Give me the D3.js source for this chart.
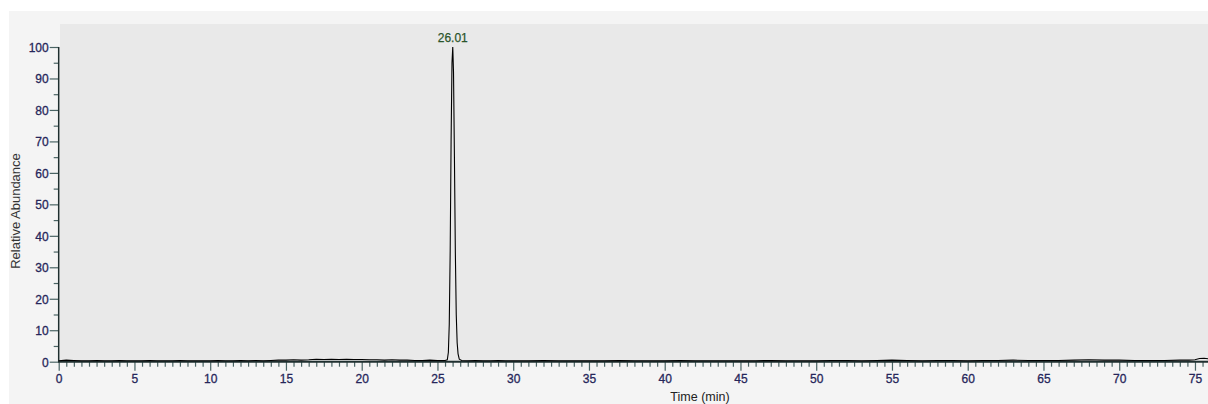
<!DOCTYPE html>
<html>
<head>
<meta charset="utf-8">
<script src="https://cdn.jsdelivr.net/npm/d3@7"></script>
<style>
  body { margin: 0; background: #fff; }
  svg { display: block; font-family: "Liberation Sans", Arial, sans-serif; }
</style>
</head>
<body>
<svg id="chart" width="1208" height="404"></svg>
<script>
// chromatogram trace (time in min, relative abundance in %)
var times = [
  0, 0.5, 1, 1.5, 2, 2.5, 3, 3.5, 4, 4.5, 5, 5.5, 6, 6.5, 7, 7.5, 8, 8.5, 9, 9.5,
  10, 10.5, 11, 11.5, 12, 12.5, 13, 13.5, 14, 14.5, 15, 15.5, 16, 16.5, 17, 17.5,
  18, 18.5, 19, 19.5, 20, 20.5, 21, 21.5, 22, 22.5, 23, 23.5, 24, 24.5, 25, 25.5,
  25.65, 25.72, 25.78, 25.84, 25.9, 25.96, 26.01, 26.06, 26.12, 26.18, 26.24, 26.3,
  26.36, 26.44, 26.6, 27, 27.5, 28, 28.5, 29, 29.5, 30, 31, 32, 33, 34, 35, 36, 37,
  38, 39, 40, 41, 42, 43, 44, 45, 46, 47, 48, 49, 50, 51, 52, 53, 54, 55, 56, 57,
  58, 59, 60, 61, 62, 63, 64, 65, 66, 67, 68, 69, 70, 71, 72, 73, 74, 74.6, 75,
  75.3, 75.6, 75.9
];
var abundance = [
  0.3, 0.5, 0.4, 0.3, 0.3, 0.4, 0.3, 0.3, 0.4, 0.3, 0.3, 0.3, 0.4, 0.3, 0.3, 0.3, 0.4, 0.3, 0.3, 0.3,
  0.3, 0.4, 0.3, 0.3, 0.4, 0.3, 0.4, 0.3, 0.4, 0.5, 0.5, 0.6, 0.5, 0.6, 0.8, 0.7,
  0.8, 0.7, 0.8, 0.7, 0.7, 0.6, 0.6, 0.5, 0.6, 0.5, 0.5, 0.4, 0.4, 0.5, 0.4, 0.4,
  0.6, 3, 12, 35, 70, 95, 100, 92, 65, 35, 15, 6,
  2.5, 0.8, 0.4, 0.3, 0.4, 0.3, 0.3, 0.4, 0.3, 0.3, 0.3, 0.4, 0.3, 0.3, 0.3, 0.3, 0.4,
  0.3, 0.3, 0.3, 0.4, 0.3, 0.3, 0.3, 0.3, 0.3, 0.4, 0.3, 0.3, 0.3, 0.4, 0.4, 0.3, 0.4, 0.5, 0.4, 0.3,
  0.4, 0.4, 0.3, 0.4, 0.4, 0.5, 0.4, 0.4, 0.4, 0.5, 0.6, 0.5, 0.5, 0.4, 0.4, 0.4, 0.5, 0.5, 0.6,
  1.0, 1.1, 0.9
];
var peakTime = 26.01;
var peakLabel = "26.01";

var xMajor = [0, 5, 10, 15, 20, 25, 30, 35, 40, 45, 50, 55, 60, 65, 70, 75];
var yMajor = [0, 10, 20, 30, 40, 50, 60, 70, 80, 90, 100];

var svg = d3.select('#chart');

var x = d3.scaleLinear().domain([0, 75.86]).range([58.7, 1208]);
var y = d3.scaleLinear().domain([0, 100]).range([361.7, 47]);

// background panels
svg.append('rect')
  .attr('x', 9).attr('y', 11).attr('width', 1199).attr('height', 393)
  .attr('fill', '#f4f4f4');
svg.append('rect')
  .attr('x', 60).attr('y', 24).attr('width', 1148).attr('height', 338)
  .attr('fill', '#e9e9e9');

// minor ticks
var xMinor = d3.range(0, 76, 0.5).filter(function (d) { return d % 5 !== 0; });
var yMinor = [5, 15, 25, 35, 45, 55, 65, 75, 85, 95];

var xMinorAxis = svg.append('g')
  .attr('transform', 'translate(0,361.7)')
  .call(d3.axisBottom(x).tickValues(xMinor).tickSize(5).tickFormat(''));
var yMinorAxis = svg.append('g')
  .attr('transform', 'translate(58.7,0)')
  .call(d3.axisLeft(y).tickValues(yMinor).tickSize(5).tickFormat(''));

// major ticks with labels
var xAxis = svg.append('g')
  .attr('transform', 'translate(0,361.7)')
  .call(d3.axisBottom(x).tickValues(xMajor).tickSize(9).tickPadding(4).tickSizeOuter(0));
var yAxis = svg.append('g')
  .attr('transform', 'translate(58.7,0)')
  .call(d3.axisLeft(y).tickValues(yMajor).tickSize(9).tickPadding(1).tickSizeOuter(0));

[xMinorAxis, yMinorAxis, xAxis, yAxis].forEach(function (g) {
  g.selectAll('.domain').remove();
  g.selectAll('.tick line').attr('stroke', '#4a6464').attr('stroke-width', 1.2);
  g.selectAll('.tick text')
    .attr('fill', '#26265a')
    .attr('stroke', '#26265a')
    .attr('stroke-width', 0.3)
    .attr('font-size', '12px')
    .attr('font-family', '"Liberation Sans", Arial, sans-serif');
});
yAxis.selectAll('.tick text').attr('dy', '0.36em');

// axis lines
svg.append('line')
  .attr('x1', 58.7).attr('x2', 58.7).attr('y1', 47).attr('y2', 362)
  .attr('stroke', '#1f2f2f').attr('stroke-width', 1.5);
svg.append('line')
  .attr('x1', 58).attr('x2', 1208).attr('y1', 361.7).attr('y2', 361.7)
  .attr('stroke', '#1f2f2f').attr('stroke-width', 2);

// trace
var pts = times.map(function (t, i) { return [t, abundance[i]]; });
var line = d3.line()
  .x(function (d) { return x(d[0]); })
  .y(function (d) { return y(d[1]); });
svg.append('path')
  .datum(pts)
  .attr('d', line)
  .attr('fill', 'none')
  .attr('stroke', '#000')
  .attr('stroke-width', 1.1);

// peak label
svg.append('text')
  .attr('x', x(peakTime))
  .attr('y', 41.5)
  .attr('text-anchor', 'middle')
  .attr('font-size', '12px')
  .attr('fill', '#2b552b')
  .attr('stroke', '#2b552b')
  .attr('stroke-width', 0.25)
  .text(peakLabel);

// axis titles
svg.append('text')
  .attr('x', 700)
  .attr('y', 401)
  .attr('text-anchor', 'middle')
  .attr('font-size', '12.5px')
  .attr('fill', '#222')
  .text('Time (min)');
svg.append('text')
  .attr('transform', 'translate(20,211) rotate(-90)')
  .attr('text-anchor', 'middle')
  .attr('font-size', '13px')
  .attr('fill', '#333')
  .text('Relative Abundance');
</script>
</body>
</html>
